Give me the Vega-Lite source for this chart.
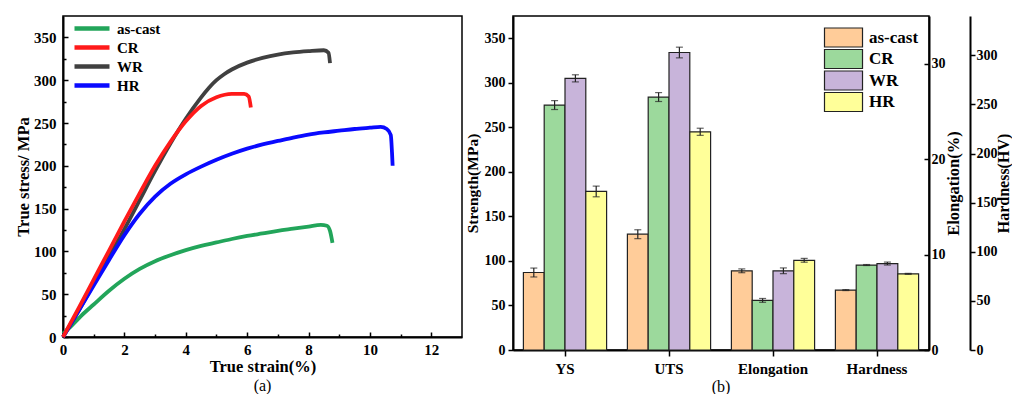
{
  "$schema": "https://vega.github.io/schema/vega-lite/v6.json",
  "padding": {"left": 14, "top": 15, "right": 0, "bottom": 0},
  "spacing": 1,
  "background": "white",
  "config": {
    "font": "Liberation Serif",
    "view": {"stroke": "black", "strokeWidth": 1.5},
    "axis": {
      "labelFont": "Liberation Serif", "labelFontWeight": "bold", "labelColor": "black",
      "titleFont": "Liberation Serif", "titleFontWeight": "bold", "titleColor": "black",
      "domainColor": "black", "domainWidth": 2, "tickColor": "black", "tickWidth": 1.5,
      "grid": false, "labelFlush": false
    },
    "legend": {"labelFont": "Liberation Serif", "labelFontWeight": "bold", "labelColor": "black", "padding": 0}
  },
  "datasets": {
    "curves": [
      {"sample": "as-cast", "strain": 0, "stress": 4},
      {"sample": "as-cast", "strain": 0.3, "stress": 14},
      {"sample": "as-cast", "strain": 0.6, "stress": 25},
      {"sample": "as-cast", "strain": 1.0, "stress": 38},
      {"sample": "as-cast", "strain": 1.5, "stress": 54},
      {"sample": "as-cast", "strain": 2.0, "stress": 68},
      {"sample": "as-cast", "strain": 2.5, "stress": 79.5},
      {"sample": "as-cast", "strain": 3.0, "stress": 88.5},
      {"sample": "as-cast", "strain": 3.5, "stress": 95.5},
      {"sample": "as-cast", "strain": 4.0, "stress": 101.5},
      {"sample": "as-cast", "strain": 4.5, "stress": 106.5},
      {"sample": "as-cast", "strain": 5.0, "stress": 110.5},
      {"sample": "as-cast", "strain": 5.5, "stress": 114.5},
      {"sample": "as-cast", "strain": 6.0, "stress": 118},
      {"sample": "as-cast", "strain": 6.5, "stress": 121},
      {"sample": "as-cast", "strain": 7.0, "stress": 124},
      {"sample": "as-cast", "strain": 7.5, "stress": 126.5},
      {"sample": "as-cast", "strain": 8.0, "stress": 129},
      {"sample": "as-cast", "strain": 8.4, "stress": 131},
      {"sample": "as-cast", "strain": 8.6, "stress": 130},
      {"sample": "as-cast", "strain": 8.7, "stress": 124},
      {"sample": "as-cast", "strain": 8.78, "stress": 110},
      {"sample": "WR", "strain": 0, "stress": 0},
      {"sample": "WR", "strain": 0.5, "stress": 30},
      {"sample": "WR", "strain": 1.0, "stress": 62},
      {"sample": "WR", "strain": 1.5, "stress": 94},
      {"sample": "WR", "strain": 2.0, "stress": 126},
      {"sample": "WR", "strain": 2.5, "stress": 160},
      {"sample": "WR", "strain": 3.0, "stress": 194},
      {"sample": "WR", "strain": 3.5, "stress": 226},
      {"sample": "WR", "strain": 4.0, "stress": 255},
      {"sample": "WR", "strain": 4.5, "stress": 280},
      {"sample": "WR", "strain": 4.75, "stress": 291},
      {"sample": "WR", "strain": 5.0, "stress": 300},
      {"sample": "WR", "strain": 5.25, "stress": 307},
      {"sample": "WR", "strain": 5.5, "stress": 312.5},
      {"sample": "WR", "strain": 6.0, "stress": 320.5},
      {"sample": "WR", "strain": 6.5, "stress": 326},
      {"sample": "WR", "strain": 7.0, "stress": 330},
      {"sample": "WR", "strain": 7.5, "stress": 332.5},
      {"sample": "WR", "strain": 8.0, "stress": 334},
      {"sample": "WR", "strain": 8.5, "stress": 335},
      {"sample": "WR", "strain": 8.65, "stress": 332},
      {"sample": "WR", "strain": 8.7, "stress": 320},
      {"sample": "HR", "strain": 0, "stress": 0},
      {"sample": "HR", "strain": 0.5, "stress": 30},
      {"sample": "HR", "strain": 1.0, "stress": 60},
      {"sample": "HR", "strain": 1.5, "stress": 90},
      {"sample": "HR", "strain": 2.0, "stress": 119},
      {"sample": "HR", "strain": 2.5, "stress": 144},
      {"sample": "HR", "strain": 3.0, "stress": 164},
      {"sample": "HR", "strain": 3.5, "stress": 179},
      {"sample": "HR", "strain": 4.0, "stress": 190},
      {"sample": "HR", "strain": 4.5, "stress": 199},
      {"sample": "HR", "strain": 5.0, "stress": 207},
      {"sample": "HR", "strain": 5.5, "stress": 214},
      {"sample": "HR", "strain": 6.0, "stress": 220},
      {"sample": "HR", "strain": 6.5, "stress": 225},
      {"sample": "HR", "strain": 7.0, "stress": 229},
      {"sample": "HR", "strain": 7.5, "stress": 233},
      {"sample": "HR", "strain": 8.0, "stress": 236.5},
      {"sample": "HR", "strain": 8.5, "stress": 239},
      {"sample": "HR", "strain": 9.0, "stress": 241},
      {"sample": "HR", "strain": 9.5, "stress": 243},
      {"sample": "HR", "strain": 10.0, "stress": 244.5},
      {"sample": "HR", "strain": 10.35, "stress": 245.5},
      {"sample": "HR", "strain": 10.55, "stress": 243},
      {"sample": "HR", "strain": 10.68, "stress": 236},
      {"sample": "HR", "strain": 10.72, "stress": 215},
      {"sample": "HR", "strain": 10.74, "stress": 200},
      {"sample": "CR", "strain": 0, "stress": 0},
      {"sample": "CR", "strain": 0.5, "stress": 33},
      {"sample": "CR", "strain": 1.0, "stress": 67},
      {"sample": "CR", "strain": 1.5, "stress": 101},
      {"sample": "CR", "strain": 2.0, "stress": 135},
      {"sample": "CR", "strain": 2.5, "stress": 168},
      {"sample": "CR", "strain": 3.0, "stress": 200},
      {"sample": "CR", "strain": 3.5, "stress": 228},
      {"sample": "CR", "strain": 4.0, "stress": 252},
      {"sample": "CR", "strain": 4.5, "stress": 270},
      {"sample": "CR", "strain": 5.0, "stress": 280},
      {"sample": "CR", "strain": 5.5, "stress": 284},
      {"sample": "CR", "strain": 5.9, "stress": 284},
      {"sample": "CR", "strain": 6.05, "stress": 281},
      {"sample": "CR", "strain": 6.12, "stress": 268}
    ],
    "strength": [
      {"prop": "YS", "sample": "as-cast", "value": 87, "lo": 82, "hi": 92},
      {"prop": "YS", "sample": "CR", "value": 275, "lo": 270, "hi": 280},
      {"prop": "YS", "sample": "WR", "value": 305, "lo": 301, "hi": 309},
      {"prop": "YS", "sample": "HR", "value": 178, "lo": 172, "hi": 184},
      {"prop": "UTS", "sample": "as-cast", "value": 130, "lo": 125, "hi": 135},
      {"prop": "UTS", "sample": "CR", "value": 284, "lo": 279, "hi": 289},
      {"prop": "UTS", "sample": "WR", "value": 334, "lo": 328, "hi": 340},
      {"prop": "UTS", "sample": "HR", "value": 245, "lo": 241, "hi": 249}
    ],
    "elongation": [
      {"prop": "Elongation", "sample": "as-cast", "value": 8.3, "lo": 8.1, "hi": 8.5},
      {"prop": "Elongation", "sample": "CR", "value": 5.2, "lo": 5.0, "hi": 5.4},
      {"prop": "Elongation", "sample": "WR", "value": 8.3, "lo": 8.0, "hi": 8.6},
      {"prop": "Elongation", "sample": "HR", "value": 9.4, "lo": 9.2, "hi": 9.6}
    ],
    "hardness": [
      {"prop": "Hardness", "sample": "as-cast", "value": 61, "lo": 60.5, "hi": 61.5},
      {"prop": "Hardness", "sample": "CR", "value": 86.5, "lo": 86, "hi": 87},
      {"prop": "Hardness", "sample": "WR", "value": 88, "lo": 86.5, "hi": 89.5},
      {"prop": "Hardness", "sample": "HR", "value": 77.5, "lo": 77, "hi": 78}
    ]
  },
  "resolve": {
    "scale": {"color": "independent", "fill": "independent"},
    "legend": {"color": "independent", "fill": "independent"}
  },
  "hconcat": [
    {
      "width": 399,
      "height": 321,
      "title": {"text": "(a)", "orient": "bottom", "font": "Liberation Serif", "fontSize": 16, "fontWeight": "normal", "color": "black", "offset": 3},
      "data": {"name": "curves"},
      "resolve": {"axis": {"x": "independent", "y": "independent"}},
      "layer": [
        {
          "mark": {"type": "line", "strokeWidth": 3.8, "interpolate": "monotone"},
          "encoding": {
            "x": {
              "field": "strain", "type": "quantitative",
              "scale": {"domain": [0, 13], "nice": false, "zero": false},
              "axis": {"orient": "bottom", "values": [0, 2, 4, 6, 8, 10, 12], "title": "True strain(%)", "tickSize": -5, "labelPadding": 10, "labelFontSize": 15, "titleFontSize": 16.5, "titlePadding": 1}
            },
            "y": {
              "field": "stress", "type": "quantitative",
              "scale": {"domain": [0, 375], "nice": false},
              "axis": {"orient": "left", "values": [0, 50, 100, 150, 200, 250, 300, 350], "title": "True stress/ MPa", "tickSize": -5, "labelPadding": 12, "labelFontSize": 15, "titleFontSize": 16.5, "titlePadding": 2}
            },
            "color": {
              "field": "sample", "type": "nominal",
              "scale": {"domain": ["as-cast", "CR", "WR", "HR"], "range": ["#22A55A", "#FF1A1A", "#404040", "#0A0AFF"]},
              "legend": {"orient": "none", "legendX": 9, "legendY": 3, "title": null, "symbolType": "M-1,0H4", "symbolSize": 196, "symbolStrokeWidth": 4.5, "labelFontSize": 15, "labelOffset": 26, "rowPadding": 0}
            }
          }
        },
        {
          "mark": {"type": "point", "opacity": 0, "size": 1},
          "encoding": {
            "x": {
              "field": "strain", "type": "quantitative",
              "scale": {"domain": [0, 13], "nice": false, "zero": false},
              "axis": {"orient": "bottom", "values": [1, 3, 5, 7, 9, 11], "labels": false, "domain": false, "title": null, "tickSize": -3, "tickWidth": 1.5}
            },
            "y": {
              "field": "stress", "type": "quantitative",
              "scale": {"domain": [0, 375], "nice": false},
              "axis": {"orient": "left", "values": [25, 75, 125, 175, 225, 275, 325], "labels": false, "domain": false, "title": null, "tickSize": -3, "tickWidth": 1.5}
            }
          }
        }
      ]
    },
    {
      "width": 416,
      "height": 334,
      "title": {"text": "(b)", "orient": "bottom", "font": "Liberation Serif", "fontSize": 16, "fontWeight": "normal", "color": "black", "offset": 3},
      "resolve": {"scale": {"y": "independent"}},
      "encoding": {
        "x": {"field": "prop", "type": "nominal", "sort": null,
          "scale": {"domain": ["YS", "UTS", "Elongation", "Hardness"], "paddingInner": 0.2, "paddingOuter": 0.1},
          "axis": {"title": null, "labelAngle": 0, "bandPosition": 0.5, "tickSize": 6, "labelPadding": 5, "labelFontSize": 15}},
        "xOffset": {"field": "sample", "type": "nominal", "scale": {"domain": ["as-cast", "CR", "WR", "HR"], "paddingInner": 0, "paddingOuter": 0}}
      },
      "layer": [
        {
          "data": {"name": "strength"},
          "mark": {"type": "bar", "stroke": "#222222", "strokeWidth": 1.2},
          "encoding": {
            "y": {"field": "value", "type": "quantitative", "scale": {"domain": [0, 375], "nice": false},
              "axis": {"orient": "left", "values": [0, 50, 100, 150, 200, 250, 300, 350], "title": "Strength(MPa)", "tickSize": 5, "labelPadding": 3, "labelFontSize": 14, "titleFontSize": 15.5, "titlePadding": 4}},
            "fill": {"field": "sample", "type": "nominal",
              "scale": {"domain": ["as-cast", "CR", "WR", "HR"], "range": ["#FFCC99", "#9CD99C", "#C8B4DA", "#FFFF99"]},
              "legend": {"orient": "none", "legendX": 310, "legendY": 13, "title": null, "symbolType": "M-1,-1.357H4.43V1.357H-1Z", "symbolSize": 196, "symbolStrokeColor": "#222222", "symbolStrokeWidth": 1.2, "symbolOpacity": 1, "labelFontSize": 17, "labelOffset": 29, "rowPadding": -3.5}}
          }
        },
        {
          "data": {"name": "strength"},
          "mark": {"type": "rule", "color": "#222222", "strokeWidth": 1.2},
          "encoding": {
            "y": {"field": "lo", "type": "quantitative", "scale": {"domain": [0, 375], "nice": false}, "axis": null},
            "y2": {"field": "hi"}
          }
        },
        {
          "data": {"name": "strength"},
          "mark": {"type": "tick", "color": "#222222", "size": 7, "thickness": 1.2},
          "encoding": {"y": {"field": "lo", "type": "quantitative", "scale": {"domain": [0, 375], "nice": false}, "axis": null}}
        },
        {
          "data": {"name": "strength"},
          "mark": {"type": "tick", "color": "#222222", "size": 7, "thickness": 1.2},
          "encoding": {"y": {"field": "hi", "type": "quantitative", "scale": {"domain": [0, 375], "nice": false}, "axis": null}}
        },
        {
          "data": {"name": "elongation"},
          "mark": {"type": "bar", "stroke": "#222222", "strokeWidth": 1.2},
          "encoding": {
            "y": {"field": "value", "type": "quantitative", "scale": {"domain": [0, 35], "nice": false},
              "axis": {"orient": "right", "values": [0, 10, 20, 30], "title": "Elongation(%)", "titleAngle": 270, "tickSize": -5, "labelPadding": 7, "labelFontSize": 14, "titleFontSize": 16.5, "titlePadding": 16}},
            "fill": {"field": "sample", "type": "nominal", "scale": {"domain": ["as-cast", "CR", "WR", "HR"], "range": ["#FFCC99", "#9CD99C", "#C8B4DA", "#FFFF99"]}, "legend": null}
          }
        },
        {
          "data": {"name": "elongation"},
          "mark": {"type": "rule", "color": "#222222", "strokeWidth": 1.2},
          "encoding": {
            "y": {"field": "lo", "type": "quantitative", "scale": {"domain": [0, 35], "nice": false}, "axis": null},
            "y2": {"field": "hi"}
          }
        },
        {
          "data": {"name": "elongation"},
          "mark": {"type": "tick", "color": "#222222", "size": 7, "thickness": 1.2},
          "encoding": {"y": {"field": "lo", "type": "quantitative", "scale": {"domain": [0, 35], "nice": false}, "axis": null}}
        },
        {
          "data": {"name": "elongation"},
          "mark": {"type": "tick", "color": "#222222", "size": 7, "thickness": 1.2},
          "encoding": {"y": {"field": "hi", "type": "quantitative", "scale": {"domain": [0, 35], "nice": false}, "axis": null}}
        },
        {
          "data": {"name": "hardness"},
          "mark": {"type": "bar", "stroke": "#222222", "strokeWidth": 1.2},
          "encoding": {
            "y": {"field": "value", "type": "quantitative", "scale": {"domain": [0, 340], "nice": false},
              "axis": {"orient": "right", "offset": 41, "values": [0, 50, 100, 150, 200, 250, 300], "title": "Hardness(HV)", "titleAngle": 270, "tickSize": 5, "labelPadding": 1, "labelFontSize": 14, "titleFontSize": 16, "titlePadding": 14}},
            "fill": {"field": "sample", "type": "nominal", "scale": {"domain": ["as-cast", "CR", "WR", "HR"], "range": ["#FFCC99", "#9CD99C", "#C8B4DA", "#FFFF99"]}, "legend": null}
          }
        },
        {
          "data": {"name": "hardness"},
          "mark": {"type": "rule", "color": "#222222", "strokeWidth": 1.2},
          "encoding": {
            "y": {"field": "lo", "type": "quantitative", "scale": {"domain": [0, 340], "nice": false}, "axis": null},
            "y2": {"field": "hi"}
          }
        },
        {
          "data": {"name": "hardness"},
          "mark": {"type": "tick", "color": "#222222", "size": 7, "thickness": 1.2},
          "encoding": {"y": {"field": "lo", "type": "quantitative", "scale": {"domain": [0, 340], "nice": false}, "axis": null}}
        },
        {
          "data": {"name": "hardness"},
          "mark": {"type": "tick", "color": "#222222", "size": 7, "thickness": 1.2},
          "encoding": {"y": {"field": "hi", "type": "quantitative", "scale": {"domain": [0, 340], "nice": false}, "axis": null}}
        }
      ]
    }
  ]
}
